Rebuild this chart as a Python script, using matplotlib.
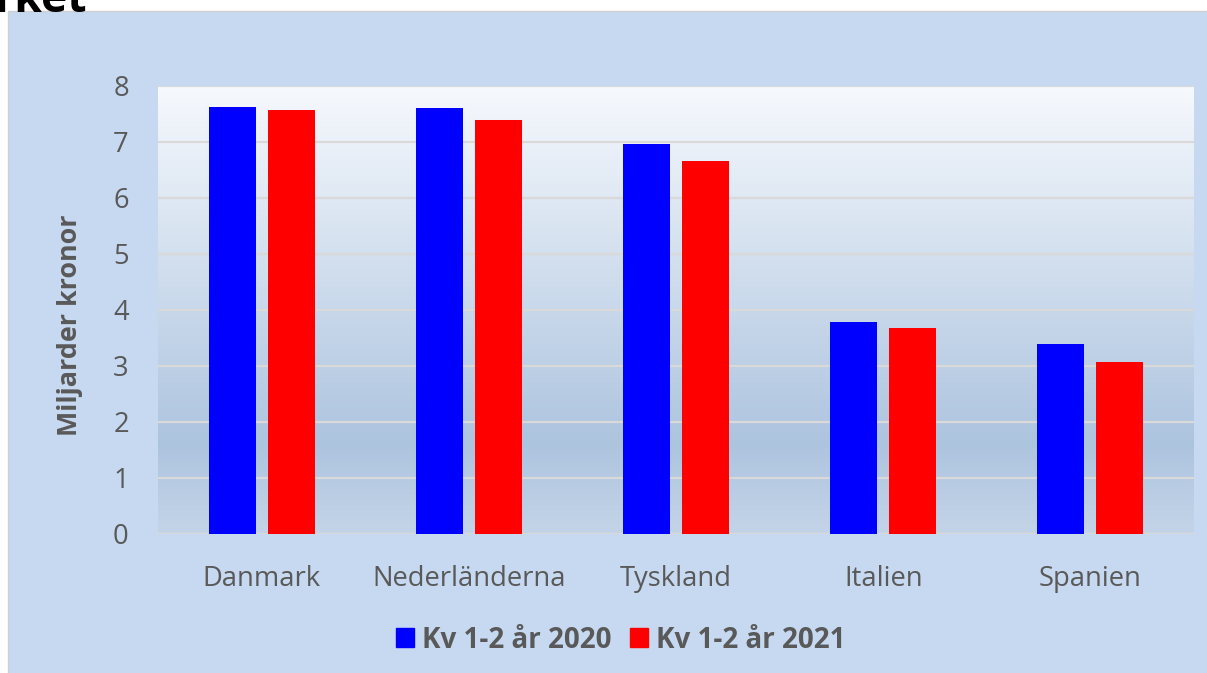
import numpy as np
import matplotlib
matplotlib.use("Agg")
import matplotlib.pyplot as plt
from matplotlib.colors import LinearSegmentedColormap
from matplotlib.patches import Rectangle, Patch

categories = ["Danmark", "Nederländerna", "Tyskland", "Italien", "Spanien"]
series_names = ["Kv 1-2 år 2020", "Kv 1-2 år 2021"]
values_2020 = [7.63, 7.60, 6.97, 3.79, 3.40]
values_2021 = [7.58, 7.39, 6.66, 3.67, 3.08]
yticks = [0, 1, 2, 3, 4, 5, 6, 7, 8]
ylabel = "Miljarder kronor"

plt.rcParams['font.family'] = ['Open Sans', 'DejaVu Sans']
W, H = 1207, 673
fig = plt.figure(figsize=(W / 100, H / 100), dpi=100, facecolor="white")

# chart area background
bgax = fig.add_axes([0, 0, 1, 1], zorder=-10)
bgax.set_xlim(0, W)
bgax.set_ylim(H, 0)
bgax.axis("off")
bgax.add_patch(Rectangle((8, 11), W, H, facecolor="#c6d9f0",
                         edgecolor="#d0d0d0", linewidth=1))
# cropped title remnant
bgax.text(-6, 12, "rket", fontsize=32, fontweight="bold", color="black",
          ha="left", va="baseline", clip_on=False)

ax = fig.add_axes([158 / W, 139 / H, 1036 / W, 448 / H], zorder=1)
ax.set_facecolor("none")

# gradient plot area
cmap = LinearSegmentedColormap.from_list(
    "g", [(0.0, "#c4d4e8"), (0.2, "#adc4df"), (1.0, "#f6f9fd")])
grad = np.linspace(0, 1, 256).reshape(-1, 1)
ax.imshow(grad, cmap=cmap, aspect="auto", extent=[-0.5, 4.5, 0, 8],
          origin="lower", zorder=0)

x = np.arange(len(categories))
off = 0.1425
w = 0.227
ax.bar(x - off, values_2020, w, color="#0000ff", zorder=3, label=series_names[0])
ax.bar(x + off, values_2021, w, color="#ff0000", zorder=3, label=series_names[1])

ax.set_xlim(-0.5, 4.5)
ax.set_ylim(0, 8)
ax.set_yticks(yticks)
ax.yaxis.grid(True, color="#d9d9d9", linewidth=1.6, zorder=1)
ax.set_axisbelow(True)
for s in ax.spines.values():
    s.set_visible(False)
ax.tick_params(axis="both", length=0, labelsize=19.7, colors="#595959")
ax.tick_params(axis="y", pad=21)
ax.tick_params(axis="x", pad=22)
ax.set_xticks(x)
ax.set_xticklabels(categories)

fig.text(70 / W, 1 - 325 / H, ylabel, rotation=90, ha="center", va="center",
         fontsize=19.4, fontweight="bold", color="#595959")

handles = [Patch(color="#0000ff"), Patch(color="#ff0000")]
leg = fig.legend(handles, series_names, loc="center", bbox_to_anchor=(621 / W, 33 / H),
                 ncol=2, frameon=False, handlelength=0.65, handleheight=0.65,
                 handletextpad=0.3, columnspacing=0.65,
                 prop={"size": 20, "weight": "bold"})
for t in leg.get_texts():
    t.set_color("#595959")

fig.savefig("out.png", dpi=100, facecolor=fig.get_facecolor())
